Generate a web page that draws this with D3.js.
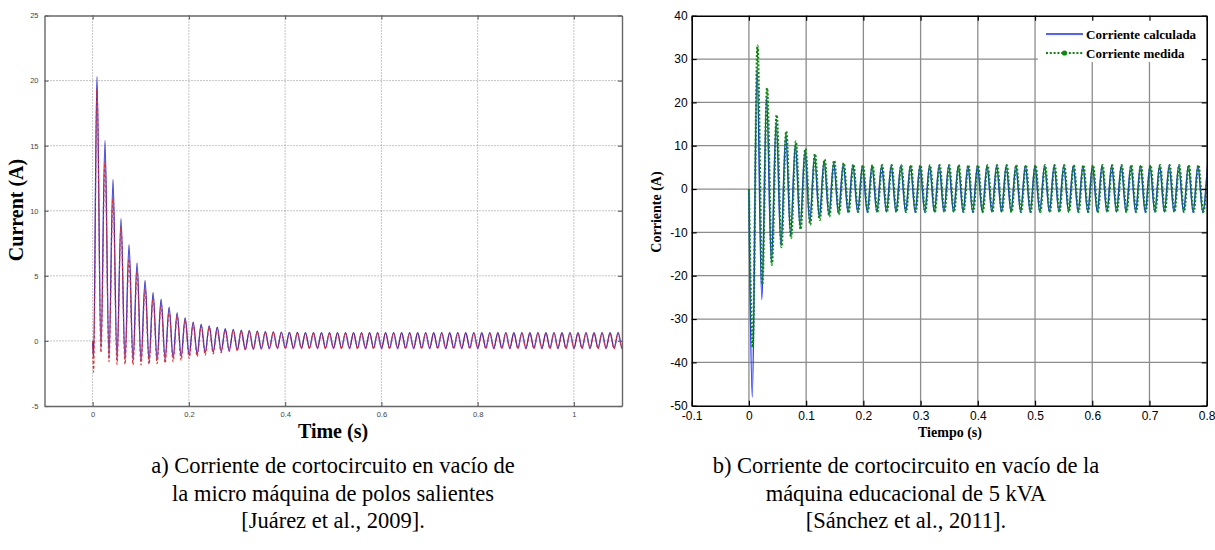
<!DOCTYPE html>
<html><head><meta charset="utf-8">
<script src="https://cdn.jsdelivr.net/npm/d3@7"></script>
<style>body{margin:0;background:#fff}svg{display:block}</style>
</head><body>
<svg id="c" width="1215" height="550"></svg>
<script>
// ---------------- DATA ----------------
// Left chart (a): tick labels
const leftXTicks = [0, 0.2, 0.4, 0.6, 0.8, 1];
const leftYTicks = [-5, 0, 5, 10, 15, 20, 25];
// start of the transient (time, value)
const leftStartTime = [0, 0.002];
const leftBlueStart = [0, -1.2];
const leftRedStart = [0, -2.4];
// time of first peak and half-period between successive extrema (60 Hz)
const leftT0 = 0.009;
const leftHalf = 0.00833;
// successive peak / trough values (blue solid)
const leftBluePeaks = [20.3, 15.4, 12.4, 9.4, 7.4, 6.0, 4.65, 3.7, 3.2, 2.6,
  2.15, 1.77, 1.45, 1.28, 1.15, 1.05, 0.95, 0.88, 0.82, 0.78,
  0.75, 0.72, 0.7, 0.68, 0.66, 0.65, 0.64, 0.64, 0.64, 0.64,
  0.64, 0.64, 0.64, 0.64, 0.64, 0.64, 0.64, 0.64, 0.64, 0.64,
  0.64, 0.64, 0.64, 0.64, 0.64, 0.64, 0.64, 0.64, 0.64, 0.64,
  0.64, 0.64, 0.64, 0.64, 0.64, 0.64, 0.64, 0.64, 0.64, 0.64,
  0.64, 0.64, 0.64, 0.64, 0.64, 0.64, 0.64];
const leftBlueTroughs = [-0.6, -1.2, -1.4, -1.45, -1.5, -1.5, -1.5, -1.45, -1.4, -1.3,
  -1.2, -1.1, -1.0, -0.9, -0.85, -0.8, -0.75, -0.7, -0.65, -0.62,
  -0.6, -0.58, -0.56, -0.55, -0.55, -0.55, -0.55, -0.55, -0.55, -0.55,
  -0.55, -0.55, -0.55, -0.55, -0.55, -0.55, -0.55, -0.55, -0.55, -0.55,
  -0.55, -0.55, -0.55, -0.55, -0.55, -0.55, -0.55, -0.55, -0.55, -0.55,
  -0.55, -0.55, -0.55, -0.55, -0.55, -0.55, -0.55, -0.55, -0.55, -0.55,
  -0.55, -0.55, -0.55, -0.55, -0.55, -0.55];
// red dashed
const leftRedPeaks = [19.4, 13.8, 11.0, 8.8, 6.3, 5.3, 4.0, 3.3, 2.8, 2.3,
  1.9, 1.6, 1.3, 1.15, 1.05, 0.95, 0.85, 0.8, 0.75, 0.72,
  0.7, 0.68, 0.66, 0.65, 0.63, 0.62, 0.6, 0.6, 0.6, 0.6,
  0.6, 0.6, 0.6, 0.6, 0.6, 0.6, 0.6, 0.6, 0.6, 0.6,
  0.6, 0.6, 0.6, 0.6, 0.6, 0.6, 0.6, 0.6, 0.6, 0.6,
  0.6, 0.6, 0.6, 0.6, 0.6, 0.6, 0.6, 0.6, 0.6, 0.6,
  0.6, 0.6, 0.6, 0.6, 0.6, 0.6, 0.6];
const leftRedTroughs = [-0.9, -1.6, -1.8, -1.8, -1.85, -1.85, -1.8, -1.75, -1.7, -1.6,
  -1.5, -1.35, -1.2, -1.1, -1.0, -0.9, -0.8, -0.75, -0.7, -0.65,
  -0.62, -0.6, -0.6, -0.6, -0.6, -0.6, -0.6, -0.6, -0.6, -0.6,
  -0.6, -0.6, -0.6, -0.6, -0.6, -0.6, -0.6, -0.6, -0.6, -0.6,
  -0.6, -0.6, -0.6, -0.6, -0.6, -0.6, -0.6, -0.6, -0.6, -0.6,
  -0.6, -0.6, -0.6, -0.6, -0.6, -0.6, -0.6, -0.6, -0.6, -0.6,
  -0.6, -0.6, -0.6, -0.6, -0.6, -0.6];

// Right chart (b)
const rightXTicks = [-0.1, 0, 0.1, 0.2, 0.3, 0.4, 0.5, 0.6, 0.7, 0.8];
const rightYTicks = [-50, -40, -30, -20, -10, 0, 10, 20, 30, 40];
const rightStartTime = [0];
const rightBlueStart = [0];
const rightGreenStart = [0];
const rightT0 = 0.0058;      // time of first trough
const rightHalf = 0.008375;  // half period
const rightBlueTroughs = [-48, -25.5, -17, -13, -10.5, -8.8, -7.5, -6.5, -6.0, -5.6,
  -5.4, -5.3, -5.3, -5.3, -5.3, -5.3, -5.3, -5.3, -5.3, -5.3,
  -5.3, -5.3, -5.3, -5.3, -5.3, -5.3, -5.3, -5.3, -5.3, -5.3,
  -5.3, -5.3, -5.3, -5.3, -5.3, -5.3, -5.3, -5.3, -5.3, -5.3,
  -5.3, -5.3, -5.3, -5.3, -5.3, -5.3, -5.3, -5.3];
const rightBluePeaks = [28, 21, 15.5, 12.5, 10.3, 8.8, 7.5, 6.5, 6.0, 5.7,
  5.5, 5.4, 5.4, 5.4, 5.4, 5.4, 5.4, 5.4, 5.4, 5.4,
  5.4, 5.4, 5.4, 5.4, 5.4, 5.4, 5.4, 5.4, 5.4, 5.4,
  5.4, 5.4, 5.4, 5.4, 5.4, 5.4, 5.4, 5.4, 5.4, 5.4,
  5.4, 5.4, 5.4, 5.4, 5.4, 5.4, 5.4, 5.4];
const rightGreenTroughs = [-36.5, -22, -17.5, -13.4, -11.3, -9.3, -8.2, -7.1, -6.3, -5.8,
  -5.5, -5.3, -5.3, -5.3, -5.3, -5.3, -5.3, -5.3, -5.3, -5.3,
  -5.3, -5.3, -5.3, -5.3, -5.3, -5.3, -5.3, -5.3, -5.3, -5.3,
  -5.3, -5.3, -5.3, -5.3, -5.3, -5.3, -5.3, -5.3, -5.3, -5.3,
  -5.3, -5.3, -5.3, -5.3, -5.3, -5.3, -5.3, -5.3];
const rightGreenPeaks = [33.1, 23.3, 17.1, 13.3, 11.0, 9.3, 8.1, 6.8, 6.6, 6.0,
  5.7, 5.5, 5.5, 5.5, 5.5, 5.5, 5.5, 5.5, 5.5, 5.5,
  5.5, 5.5, 5.5, 5.5, 5.5, 5.5, 5.5, 5.5, 5.5, 5.5,
  5.5, 5.5, 5.5, 5.5, 5.5, 5.5, 5.5, 5.5, 5.5, 5.5,
  5.5, 5.5, 5.5, 5.5, 5.5, 5.5, 5.5, 5.5];
const legendLabels = ["Corriente calculada", "Corriente medida"];

const captionA = ["a) Corriente de cortocircuito en vacío de", "la micro máquina de polos salientes", "[Juárez et al., 2009]."];
const captionB = ["b) Corriente de cortocircuito en vacío de la", "máquina educacional de 5 kVA", "[Sánchez et al., 2011]."];

// ---------------- HELPERS ----------------
function buildSeries(startT, startV, t0, half, evenVals, oddVals) {
  const pts = startT.map((t, i) => [t, startV[i]]);
  const n = evenVals.length + oddVals.length;
  for (let k = 0; k < n; k++) {
    const v = k % 2 === 0 ? evenVals[k / 2] : oddVals[(k - 1) / 2];
    pts.push([t0 + k * half, v]);
  }
  return pts;
}

const svg = d3.select("#c");
const defs = svg.append("defs");

// ---------------- LEFT CHART ----------------
const lx = d3.scaleLinear().domain([-0.1, 1.1]).range([44.5, 622]);
const ly = d3.scaleLinear().domain([-5, 25]).range([406, 15.5]);
defs.append("clipPath").attr("id", "clipL").append("rect")
  .attr("x", lx(-0.1)).attr("y", ly(25)).attr("width", lx(1.1) - lx(-0.1)).attr("height", ly(-5) - ly(25));

const gL = svg.append("g");
// grid
gL.append("g").selectAll("line").data(leftXTicks).join("line")
  .attr("x1", d => lx(d)).attr("x2", d => lx(d)).attr("y1", ly(25)).attr("y2", ly(-5))
  .attr("stroke", "#8a8a8a").attr("stroke-width", 1).attr("stroke-dasharray", "1,2");
gL.append("g").selectAll("line").data(leftYTicks.filter(d => d > -5 && d < 25)).join("line")
  .attr("x1", lx(-0.1)).attr("x2", lx(1.1)).attr("y1", d => ly(d)).attr("y2", d => ly(d))
  .attr("stroke", "#8a8a8a").attr("stroke-width", 1).attr("stroke-dasharray", "1,2");

const lineL = d3.line().x(d => lx(d[0])).y(d => ly(d[1])).curve(d3.curveMonotoneX);
const blueL = buildSeries(leftStartTime, leftBlueStart, leftT0, leftHalf, leftBluePeaks, leftBlueTroughs);
const redL = buildSeries(leftStartTime, leftRedStart, leftT0, leftHalf, leftRedPeaks, leftRedTroughs);
const plotL = gL.append("g").attr("clip-path", "url(#clipL)");
plotL.append("path").datum(blueL).attr("d", lineL).attr("fill", "none")
  .attr("stroke", "#2a2ad0").attr("stroke-width", 1.3);
plotL.append("path").datum(redL).attr("d", lineL).attr("fill", "none")
  .attr("stroke", "#e03030").attr("stroke-width", 1.1).attr("stroke-dasharray", "3,2");

// axes
const axL = gL.append("g");
axL.append("g").attr("transform", `translate(0,${ly(-5)})`)
  .call(d3.axisBottom(lx).tickValues(leftXTicks).tickSizeInner(-4).tickSizeOuter(0).tickPadding(6).tickFormat(d => String(d)));
axL.append("g").attr("transform", `translate(0,${ly(25)})`)
  .call(d3.axisTop(lx).tickValues(leftXTicks).tickSizeInner(-4).tickSizeOuter(0).tickFormat(""));
axL.append("g").attr("transform", `translate(${lx(-0.1)},0)`)
  .call(d3.axisLeft(ly).tickValues(leftYTicks).tickSizeInner(-4).tickSizeOuter(0).tickPadding(6).tickFormat(d => String(d)));
axL.append("g").attr("transform", `translate(${lx(1.1)},0)`)
  .call(d3.axisRight(ly).tickValues(leftYTicks).tickSizeInner(-4).tickSizeOuter(0).tickFormat(""));
axL.selectAll(".domain").attr("stroke", "#666").attr("stroke-width", 1.4);
axL.selectAll(".tick line").attr("stroke", "#666").attr("stroke-width", 1.2);
axL.selectAll(".tick text").attr("fill", "#444").style("font-family", "'Liberation Sans', Arial, sans-serif").style("font-size", "7.5px");

gL.append("text").attr("x", 333).attr("y", 438).attr("text-anchor", "middle")
  .style("font-family", "'Liberation Serif', 'Times New Roman', serif").style("font-weight", "bold").style("font-size", "20px")
  .text("Time (s)");
gL.append("text").attr("transform", "translate(23,210) rotate(-90)").attr("text-anchor", "middle")
  .style("font-family", "'Liberation Serif', 'Times New Roman', serif").style("font-weight", "bold").style("font-size", "20px")
  .text("Current (A)");

// ---------------- RIGHT CHART ----------------
const rx = d3.scaleLinear().domain([-0.1, 0.8]).range([691.7, 1206.7]);
const ry = d3.scaleLinear().domain([-50, 40]).range([405.7, 15.7]);
defs.append("clipPath").attr("id", "clipR").append("rect")
  .attr("x", rx(-0.1)).attr("y", ry(40)).attr("width", rx(0.8) - rx(-0.1)).attr("height", ry(-50) - ry(40));

const gR = svg.append("g");
gR.append("g").selectAll("line").data(rightXTicks.filter(d => d > -0.1 && d < 0.8)).join("line")
  .attr("x1", d => rx(d)).attr("x2", d => rx(d)).attr("y1", ry(40)).attr("y2", ry(-50))
  .attr("stroke", "#8c8c8c").attr("stroke-width", 1.3);
gR.append("g").selectAll("line").data(rightYTicks.filter(d => d > -50 && d < 40)).join("line")
  .attr("x1", rx(-0.1)).attr("x2", rx(0.8)).attr("y1", d => ry(d)).attr("y2", d => ry(d))
  .attr("stroke", "#8c8c8c").attr("stroke-width", 1.3);

const lineR = d3.line().x(d => rx(d[0])).y(d => ry(d[1])).curve(d3.curveMonotoneX);
const blueR = buildSeries(rightStartTime, rightBlueStart, rightT0, rightHalf, rightBlueTroughs, rightBluePeaks);
const greenR = buildSeries(rightStartTime, rightGreenStart, rightT0 + 0.0008, rightHalf, rightGreenTroughs, rightGreenPeaks);
const plotR = gR.append("g").attr("clip-path", "url(#clipR)");
plotR.append("path").datum(blueR).attr("d", lineR).attr("fill", "none")
  .attr("stroke", "#1a2cff").attr("stroke-width", 1.5);
plotR.append("path").datum(greenR).attr("d", lineR).attr("fill", "none")
  .attr("stroke", "#0a8a0a").attr("stroke-width", 2.2).attr("stroke-dasharray", "2,1.8");

// legend
const lg = gR.append("g");
lg.append("rect").attr("x", 1038).attr("y", ry(40)).attr("width", rx(0.8) - 1038).attr("height", 62 - ry(40))
  .attr("fill", "#fff");
lg.append("line").attr("x1", 1046).attr("x2", 1083).attr("y1", 34).attr("y2", 34)
  .attr("stroke", "#1a2cff").attr("stroke-width", 1.5);
lg.append("line").attr("x1", 1046).attr("x2", 1083).attr("y1", 53).attr("y2", 53)
  .attr("stroke", "#0a8a0a").attr("stroke-width", 2).attr("stroke-dasharray", "2,1.8");
lg.append("circle").attr("cx", 1064.5).attr("cy", 53).attr("r", 2.6).attr("fill", "#0a8a0a");
lg.selectAll("text").data(legendLabels).join("text")
  .attr("x", 1086).attr("y", (d, i) => 38.5 + i * 19)
  .style("font-family", "'Liberation Serif', 'Times New Roman', serif").style("font-weight", "bold").style("font-size", "13px")
  .text(d => d);

// axes
const axR = gR.append("g");
axR.append("g").attr("transform", `translate(0,${ry(-50)})`)
  .call(d3.axisBottom(rx).tickValues(rightXTicks).tickSizeInner(-5).tickSizeOuter(0).tickPadding(6).tickFormat(d => String(d)));
axR.append("g").attr("transform", `translate(0,${ry(40)})`)
  .call(d3.axisTop(rx).tickValues(rightXTicks).tickSizeInner(-5).tickSizeOuter(0).tickFormat(""));
axR.append("g").attr("transform", `translate(${rx(-0.1)},0)`)
  .call(d3.axisLeft(ry).tickValues(rightYTicks).tickSizeInner(-5).tickSizeOuter(0).tickPadding(4).tickFormat(d => String(d)));
axR.append("g").attr("transform", `translate(${rx(0.8)},0)`)
  .call(d3.axisRight(ry).tickValues(rightYTicks).tickSizeInner(-5).tickSizeOuter(0).tickFormat(""));
axR.selectAll(".domain").attr("stroke", "#000").attr("stroke-width", 1.6);
axR.selectAll(".tick line").attr("stroke", "#000").attr("stroke-width", 1.2);
axR.selectAll(".tick text").attr("fill", "#000").style("font-family", "'Liberation Sans', Arial, sans-serif").style("font-size", "12px");

gR.append("text").attr("x", 950).attr("y", 437).attr("text-anchor", "middle")
  .style("font-family", "'Liberation Serif', 'Times New Roman', serif").style("font-weight", "bold").style("font-size", "14px")
  .text("Tiempo (s)");
gR.append("text").attr("transform", "translate(661,212) rotate(-90)").attr("text-anchor", "middle")
  .style("font-family", "'Liberation Serif', 'Times New Roman', serif").style("font-weight", "bold").style("font-size", "14px")
  .text("Corriente (A)");

// ---------------- CAPTIONS ----------------
const capStyle = sel => sel.style("font-family", "'Liberation Serif', 'Times New Roman', serif").style("font-size", "22.5px").attr("fill", "#000");
svg.append("g").selectAll("text").data(captionA).join("text")
  .attr("x", 333).attr("y", (d, i) => 473 + i * 27.5).attr("text-anchor", "middle").call(capStyle).text(d => d);
svg.append("g").selectAll("text").data(captionB).join("text")
  .attr("x", 906).attr("y", (d, i) => 473 + i * 27.5).attr("text-anchor", "middle").call(capStyle).text(d => d);
</script>
</body></html>
